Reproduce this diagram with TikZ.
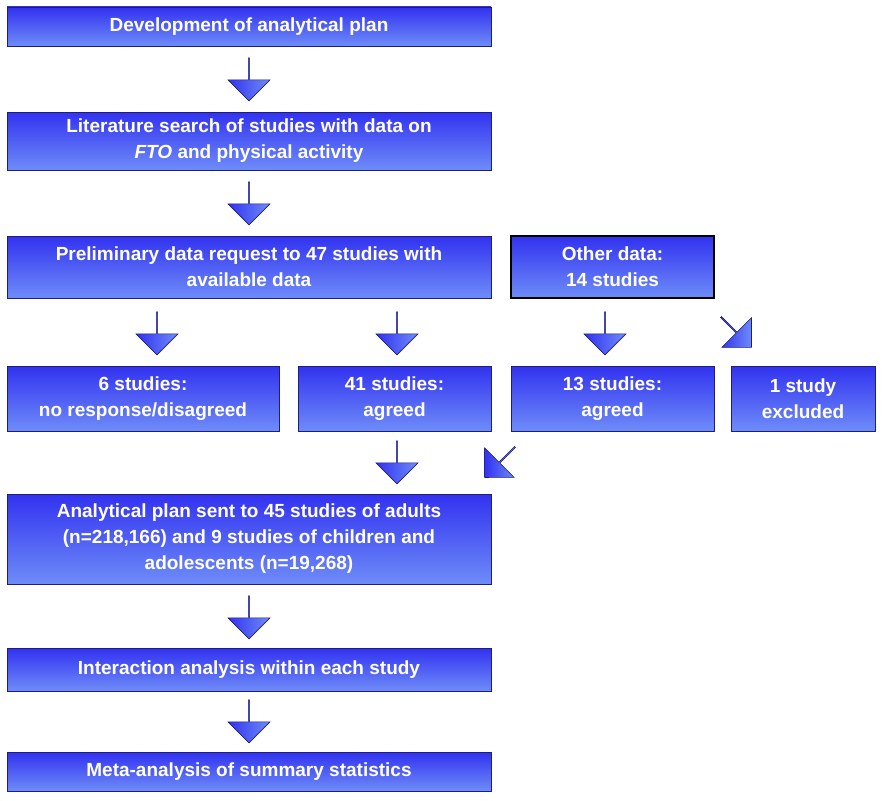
\documentclass[tikz,border=0pt]{standalone}
\usepackage{fontspec}
\setmainfont{Liberation Sans}
\usetikzlibrary{shapes.arrows}
\definecolor{tc}{RGB}{50,50,240}
\definecolor{bc}{RGB}{110,140,248}
\definecolor{ec}{RGB}{30,30,120}
\begin{document}
\begin{tikzpicture}[x=1pt,y=-1pt,
 box/.style={draw=ec,line width=0.8pt,top color=tc,bottom color=bc,text=white,
   font=\fontsize{19}{26}\selectfont\bfseries,align=center,inner sep=0pt},
 arr/.style={single arrow,draw=ec,line width=0.6pt,left color=tc,right color=bc,
   minimum height=43pt,minimum width=42pt,single arrow head extend=9pt,
   single arrow tip angle=90,inner sep=0pt,shape border rotate=0}]
\useasboundingbox (0,0) rectangle (882,800);
\newcommand{\bx}[6]{\node[box,minimum width=#4-#2,minimum height=#5-#3,#6] (#1) at ({(#2+#4)/2},{(#3+#5)/2})}
\bx{a}{7}{7}{491}{46}{}{Development of analytical plan};
\bx{b}{7}{112}{491}{170}{}{Literature search of studies with data on\\\textit{FTO} and physical activity};
\bx{c}{7}{236}{491}{298}{}{Preliminary data request to 47 studies with\\available data};
\bx{o}{511}{236}{714}{298}{draw=black,line width=1.2pt}{Other data:\\14 studies};
\bx{d1}{7}{366}{279}{431}{}{6 studies:\\no response/disagreed};
\bx{d2}{298}{366}{491}{431}{}{41 studies:\\agreed};
\bx{d3}{511}{366}{714}{431}{}{13 studies:\\agreed};
\bx{d4}{731}{366}{875}{431}{}{1 study\\excluded};
\bx{e}{7}{494}{491}{584}{}{Analytical plan sent to 45 studies of adults\\(n=218,166) and 9 studies of children and\\adolescents (n=19,268)};
\bx{f}{7}{648}{491}{691}{}{Interaction analysis within each study};
\bx{g}{7}{752}{491}{791}{}{Meta-analysis of summary statistics};
\node[arr,rotate=-90] (a1) at (249,79) {};
\node[arr,rotate=-90] (a2) at (249,203) {};
\node[arr,rotate=-90] (a3) at (157,333) {};
\node[arr,rotate=-90] (a4) at (397,333) {};
\node[arr,rotate=-90] (a5) at (605,333) {};
\node[arr,rotate=-45] (a6) at (736,332) {};
\node[arr,rotate=-90] (a7) at (397,462) {};
\node[arr,rotate=-135] (a8) at (500,462) {};
\node[arr,rotate=-90] (a9) at (249,617) {};
\node[arr,rotate=-90] (a10) at (249,721) {};
\end{tikzpicture}
\end{document}
